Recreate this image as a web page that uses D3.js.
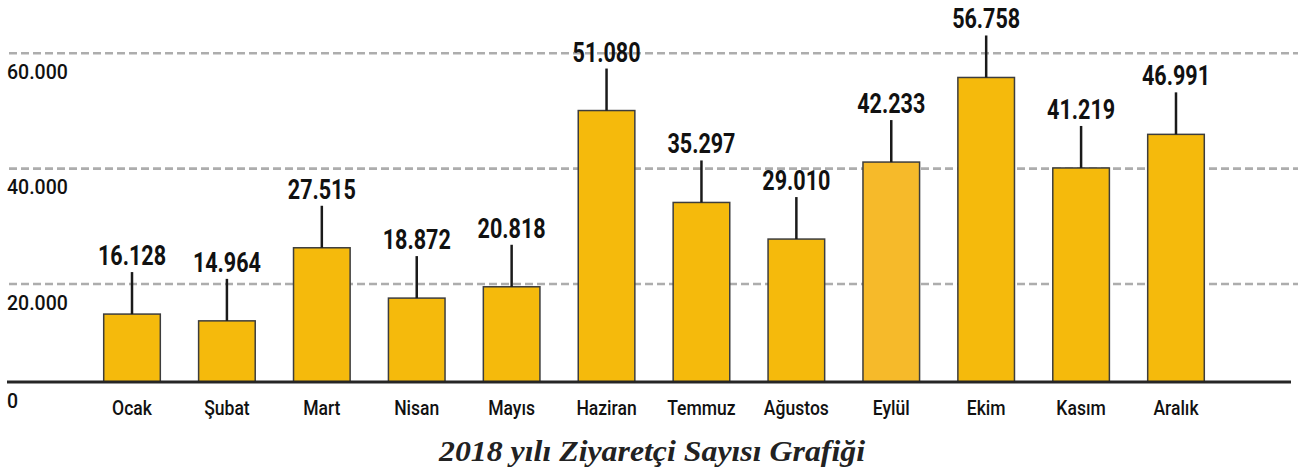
<!DOCTYPE html>
<html>
<head>
<meta charset="utf-8">
<script src="https://cdn.jsdelivr.net/npm/d3@7"></script>
<style>
  body { margin: 0; background: #fff; }
  svg { display: block; }
</style>
</head>
<body>
<script>
// data
const months = ["Ocak", "Şubat", "Mart", "Nisan", "Mayıs", "Haziran", "Temmuz", "Ağustos", "Eylül", "Ekim", "Kasım", "Aralık"];
const visitors = [16128, 14964, 27515, 18872, 20818, 51080, 35297, 29010, 42233, 56758, 41219, 46991];
const valueLabels = ["16.128", "14.964", "27.515", "18.872", "20.818", "51.080", "35.297", "29.010", "42.233", "56.758", "41.219", "46.991"];
const yTicks = [0, 20000, 40000, 60000];
const yTickLabels = ["0", "20.000", "40.000", "60.000"];
const title = "2018 yılı Ziyaretçi Sayısı Grafiği";

const width = 1298;
const height = 475;
const baseY = 382; // x axis line

const svg = d3.select("body").append("svg")
  .attr("width", width)
  .attr("height", height);

const xScale = d3.scaleBand()
  .domain(months)
  .range([65.4, 1242.6])
  .paddingInner(0.4036)
  .paddingOuter(0.4036);

// gridline scale
const yScale = d3.scaleLinear()
  .domain([0, 60000])
  .range([399.4, 53.3]);

// bars sit a little lower than the grid in the original
const yBar = d3.scaleLinear()
  .domain([0, 60000])
  .range([408, 58.6]);

// gridlines
svg.append("g")
  .attr("class", "grid")
  .selectAll("line")
  .data(yTicks.filter(d => d > 0))
  .join("line")
    .attr("x1", 9)
    .attr("x2", width)
    .attr("y1", d => yScale(d))
    .attr("y2", d => yScale(d))
    .attr("stroke", "#adadad")
    .attr("stroke-width", 2.6)
    .attr("stroke-dasharray", "8,4");

// y tick labels (0 sits under the axis line)
svg.append("g")
  .attr("class", "y-labels")
  .selectAll("text")
  .data(yTicks)
  .join("text")
    .attr("x", 7)
    .attr("y", d => (d == 0 ? baseY : yScale(d)) + 25.5)
    .attr("font-family", "Roboto, sans-serif")
    .attr("font-weight", 500)
    .attr("font-size", 19.5)
    .attr("fill", "#111")
    .text((d, i) => yTickLabels[i]);

// bars
svg.append("g")
  .attr("class", "bars")
  .selectAll("rect")
  .data(visitors)
  .join("rect")
    .attr("x", (d, i) => xScale(months[i]))
    .attr("width", xScale.bandwidth())
    .attr("y", d => yBar(d))
    .attr("height", d => baseY - yBar(d))
    .attr("fill", (d, i) => months[i] == "Eylül" ? "#f6ba2a" : "#f5ba0c")
    .attr("stroke", "#3d3d3d")
    .attr("stroke-width", 1.5);

// axis line
svg.append("line")
  .attr("x1", 7)
  .attr("x2", 1291)
  .attr("y1", baseY)
  .attr("y2", baseY)
  .attr("stroke", "#262626")
  .attr("stroke-width", 3);

// leader lines
svg.append("g")
  .attr("class", "leaders")
  .selectAll("line")
  .data(visitors)
  .join("line")
    .attr("x1", (d, i) => xScale(months[i]) + xScale.bandwidth() / 2)
    .attr("x2", (d, i) => xScale(months[i]) + xScale.bandwidth() / 2)
    .attr("y1", d => yBar(d) - 42)
    .attr("y2", d => yBar(d))
    .attr("stroke", "#1a1a1a")
    .attr("stroke-width", 2.5);

// value labels
svg.append("g")
  .attr("class", "values")
  .selectAll("text")
  .data(visitors)
  .join("text")
    .attr("transform", (d, i) => `translate(${xScale(months[i]) + xScale.bandwidth() / 2},${yBar(d) - 49}) scale(0.77,1)`)
    .attr("text-anchor", "middle")
    .attr("font-family", "Roboto, sans-serif")
    .attr("font-weight", 700)
    .attr("font-size", 28)
    .attr("fill", "#111")
    .text((d, i) => valueLabels[i]);

// month labels
svg.append("g")
  .attr("class", "months")
  .selectAll("text")
  .data(months)
  .join("text")
    .attr("transform", d => `translate(${xScale(d) + xScale.bandwidth() / 2},415) scale(0.9,1)`)
    .attr("text-anchor", "middle")
    .attr("font-family", "Roboto, sans-serif")
    .attr("font-weight", 500)
    .attr("font-size", 19.5)
    .attr("fill", "#111")
    .text(d => d);

// title
svg.append("text")
  .attr("x", 439)
  .attr("y", 461)
  .attr("textLength", 426)
  .attr("lengthAdjust", "spacingAndGlyphs")
  .attr("font-family", "'Liberation Serif', serif")
  .attr("font-style", "italic")
  .attr("font-weight", 700)
  .attr("font-size", 30)
  .attr("fill", "#222")
  .text(title);
</script>
</body>
</html>
